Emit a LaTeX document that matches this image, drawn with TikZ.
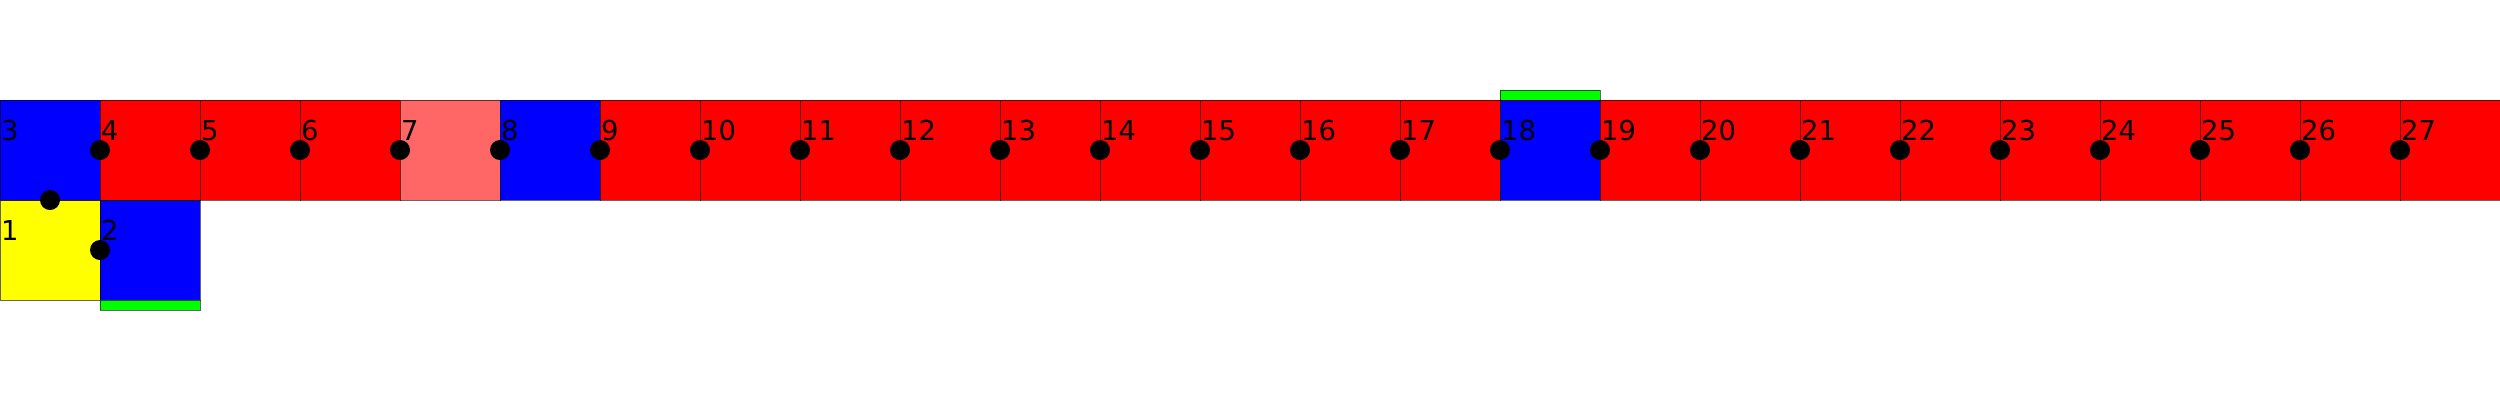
\documentclass[tikz,border=0pt]{standalone}
\usepackage{fontspec}
\setmainfont{DejaVu Sans}
\definecolor{cred}{HTML}{FF0000}
\definecolor{cblue}{HTML}{0000FF}
\definecolor{cyellow}{HTML}{FFFF00}
\definecolor{clight}{HTML}{FF6666}
\definecolor{cgreen}{HTML}{00FF00}
\begin{document}
\begin{tikzpicture}[x=1cm,y=1cm,
  cell/.style={draw=black, draw opacity=0.6, line width=0.01cm, minimum size=1cm, inner sep=0pt, outer sep=0pt, anchor=south west},
  bar/.style={draw=black, draw opacity=0.6, line width=0.01cm, fill=cgreen, minimum width=1cm, minimum height=0.1cm, inner sep=0pt, outer sep=0pt},
  dot/.style={circle, fill=black, minimum size=0.2cm, inner sep=0pt},
  num/.style={anchor=base west, inner sep=0pt, font=\fontsize{7.8}{9}\selectfont}]
\useasboundingbox (0,0) rectangle (25,4);
\node[cell, fill=cyellow] (c1) at (0,1) {};
\node[cell, fill=cblue] (c2) at (1,1) {};
\foreach \i/\col in {3/cblue,4/cred,5/cred,6/cred,7/clight,8/cblue,9/cred,10/cred,11/cred,12/cred,13/cred,14/cred,15/cred,16/cred,17/cred,18/cblue,19/cred,20/cred,21/cred,22/cred,23/cred,24/cred,25/cred,26/cred,27/cred}{
  \pgfmathtruncatemacro\xx{\i-3}
  \node[cell, fill=\col] (c\i) at (\xx,2) {};
}
\node[bar, anchor=north] (g2) at (c2.south) {};
\node[bar, anchor=south] (g18) at (c18.north) {};
\node[dot] (d3) at (c3.south) {};
\node[dot] (d2) at (c2.west) {};
\foreach \i in {4,...,27}{
  \node[dot] (d\i) at (c\i.west) {};
}
\foreach \i in {1,...,27}{
  \node[num] (l\i) at ([shift={(0.005,-0.4)}]c\i.north west) {\i};
}
\end{tikzpicture}
\end{document}
